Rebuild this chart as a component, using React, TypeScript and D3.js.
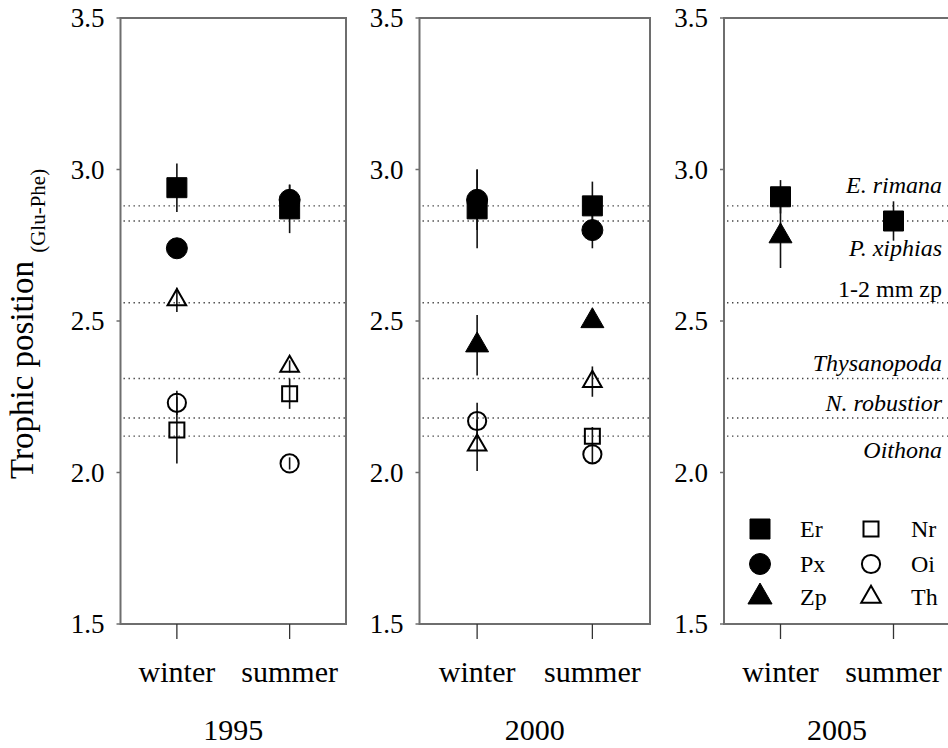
import React, { useEffect, useRef } from "react";
import * as d3 from "d3";

const years = ["1995", "2000", "2005"];
const seasons = ["winter", "summer"];

// values in order: 1995 winter, 1995 summer, 2000 winter, 2000 summer, 2005 winter, 2005 summer
const erMean = [2.94, 2.87, 2.87, 2.88, 2.91, 2.83];
const erErr = [0.08, 0.08, 0.13, 0.08, 0.055, 0.065];
const pxMean = [2.74, 2.9, 2.9, 2.8, null, null];
const pxErr = [0.02, 0.05, 0.1, 0.06, null, null];
const zpMean = [null, null, 2.42, 2.5, 2.78, null];
const zpErr = [null, null, 0.1, 0.02, 0.105, null];
const nrMean = [2.14, 2.26, null, 2.12, null, null];
const nrErr = [0.11, 0.05, null, 0.03, null, null];
const oiMean = [2.23, 2.03, 2.17, 2.06, null, null];
const oiErr = [0.04, 0.02, 0.06, 0.03, null, null];
const thMean = [2.57, 2.35, 2.09, 2.3, null, null];
const thErr = [0.04, 0.02, 0.085, 0.05, null, null];

const refNames = ["E. rimana", "P. xiphias", "1-2 mm zp", "Thysanopoda", "N. robustior", "Oithona"];
const refValues = [2.88, 2.83, 2.56, 2.31, 2.18, 2.12];
const refItalic = [true, true, false, true, true, true];
const refLabelDy = [-13, 35, -6, -8, -7, 22];

const yTicks = [1.5, 2.0, 2.5, 3.0, 3.5];

const species = [
  { code: "Er", mean: erMean, err: erErr, type: d3.symbolSquare, size: 400, filled: true },
  { code: "Px", mean: pxMean, err: pxErr, type: d3.symbolCircle, size: 346, filled: true },
  { code: "Zp", mean: zpMean, err: zpErr, type: d3.symbolTriangle, size: 229, filled: true },
  { code: "Nr", mean: nrMean, err: nrErr, type: d3.symbolSquare, size: 225, filled: false },
  { code: "Oi", mean: oiMean, err: oiErr, type: d3.symbolCircle, size: 260, filled: false },
  { code: "Th", mean: thMean, err: thErr, type: d3.symbolTriangle, size: 150, filled: false },
];

const W = 948;
const H = 748;
const panelLeft = [120.5, 419.5, 724];
const panelWidth = [225.5, 230.5, 226];
const top = 18;
const bottom = 624;
const frameColor = "#6e6e6e";
const font = "'Liberation Serif', 'Times New Roman', serif";

export default function App() {
  const ref = useRef<SVGSVGElement>(null);

  useEffect(() => {
    const svg = d3.select(ref.current);
    svg.selectAll("*").remove();

    const y = d3.scaleLinear().domain([1.5, 3.5]).range([bottom, top]);

    years.forEach((year, p) => {
      const left = panelLeft[p];
      const right = left + panelWidth[p];
      const x = d3.scalePoint<string>().domain(seasons).range([left, right]).padding(0.5);
      const g = svg.append("g");

      // reference lines
      g.selectAll(".ref")
        .data(refValues)
        .enter()
        .append("line")
        .attr("x1", left + 3)
        .attr("x2", right)
        .attr("y1", (d) => y(d))
        .attr("y2", (d) => y(d))
        .style("stroke", "#444")
        .style("stroke-width", 1.4)
        .style("stroke-dasharray", "1.4,3.6");

      // frame
      g.append("rect")
        .attr("x", left)
        .attr("y", top)
        .attr("width", right - left)
        .attr("height", bottom - top)
        .style("fill", "none")
        .style("stroke", frameColor)
        .style("stroke-width", 2);

      // y ticks and labels
      g.selectAll(".ytick")
        .data(yTicks)
        .enter()
        .append("line")
        .attr("x1", left - 4)
        .attr("x2", left)
        .attr("y1", (d) => y(d))
        .attr("y2", (d) => y(d))
        .style("stroke", frameColor)
        .style("stroke-width", 1.5);
      g.selectAll(".ylab")
        .data(yTicks)
        .enter()
        .append("text")
        .attr("x", left - 16)
        .attr("y", (d) => y(d))
        .attr("dy", "0.35em")
        .attr("text-anchor", "end")
        .style("font-family", font)
        .style("font-size", "27px")
        .text((d) => d3.format(".1f")(d));

      // x ticks and labels
      g.selectAll(".xtick")
        .data(seasons)
        .enter()
        .append("line")
        .attr("x1", (d) => x(d)!)
        .attr("x2", (d) => x(d)!)
        .attr("y1", bottom)
        .attr("y2", bottom + 15)
        .style("stroke", "#333")
        .style("stroke-width", 1.3);
      g.selectAll(".xlab")
        .data(seasons)
        .enter()
        .append("text")
        .attr("x", (d) => x(d)!)
        .attr("y", 682)
        .attr("text-anchor", "middle")
        .style("font-family", font)
        .style("font-size", "30px")
        .text((d) => d);
      g.append("text")
        .attr("x", (left + right) / 2)
        .attr("y", 740)
        .attr("text-anchor", "middle")
        .style("font-family", font)
        .style("font-size", "30px")
        .text(year);

      // error bars then symbols
      species.forEach((s) => {
        seasons.forEach((season, k) => {
          const i = p * 2 + k;
          const m = s.mean[i];
          if (m == null) return;
          const e = s.err[i] || 0;
          g.append("line")
            .attr("x1", x(season)!)
            .attr("x2", x(season)!)
            .attr("y1", y(m - e))
            .attr("y2", y(m + e))
            .style("stroke", "#111")
            .style("stroke-width", 1.6);
        });
      });
      species.forEach((s) => {
        seasons.forEach((season, k) => {
          const i = p * 2 + k;
          const m = s.mean[i];
          if (m == null) return;
          g.append("path")
            .attr("d", d3.symbol().type(s.type).size(s.size)())
            .attr("transform", `translate(${x(season)},${y(m)})`)
            .style("fill", s.filled ? "#000" : "none")
            .style("stroke", "#000")
            .style("stroke-width", s.filled ? 1 : 2);
        });
      });
    });

    // reference line labels in last panel
    const lastRight = panelLeft[2] + panelWidth[2];
    svg.selectAll(".reflab")
      .data(refNames)
      .enter()
      .append("text")
      .attr("x", lastRight - 8)
      .attr("y", (d, i) => y(refValues[i]) + refLabelDy[i])
      .attr("text-anchor", "end")
      .style("font-family", font)
      .style("font-size", "24px")
      .style("font-style", (d, i) => (refItalic[i] ? "italic" : "normal"))
      .text((d) => d);

    // legend
    const legendX = [760, 871];
    const legendY = [529, 564, 597];
    const legend = svg.append("g");
    species.forEach((s, i) => {
      const col = Math.floor(i / 3);
      const row = i % 3;
      legend.append("path")
        .attr("d", d3.symbol().type(s.type).size(s.type === d3.symbolTriangle ? s.size * 1.1 : s.size)())
        .attr("transform", `translate(${legendX[col]},${legendY[row]})`)
        .style("fill", s.filled ? "#000" : "none")
        .style("stroke", "#000")
        .style("stroke-width", s.filled ? 1 : 2);
      legend.append("text")
        .attr("x", legendX[col] + 40)
        .attr("y", legendY[row])
        .attr("dy", "0.35em")
        .style("font-family", font)
        .style("font-size", "24px")
        .text(s.code);
    });

    // y axis title
    const title = svg.append("text")
      .attr("transform", `translate(33,479) rotate(-90)`)
      .style("font-family", font)
      .style("font-size", "33px");
    title.append("tspan").text("Trophic position ");
    title.append("tspan").attr("dy", 12).style("font-size", "21px").text("(Glu-Phe)");
  }, []);

  return (
    <svg
      ref={ref}
      width={W}
      height={H}
      style={{ position: "absolute", left: 0, top: 0, background: "#fff" }}
    />
  );
}
